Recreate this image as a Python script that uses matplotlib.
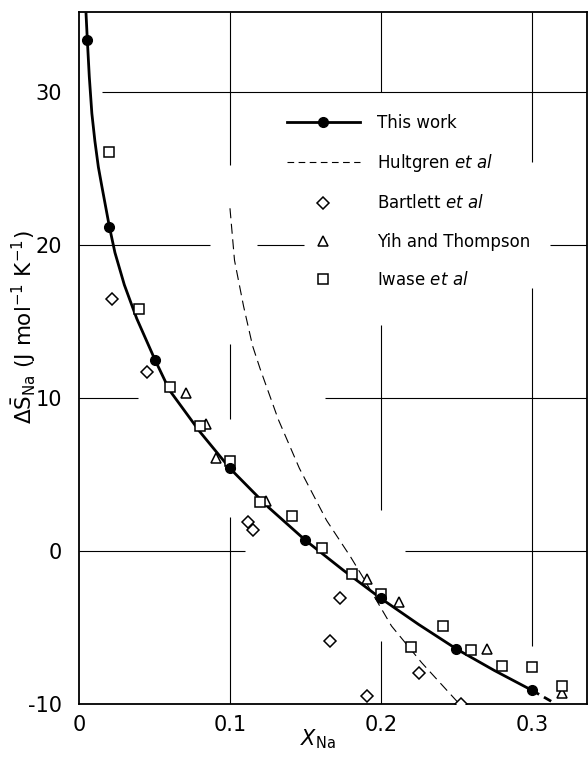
import matplotlib
matplotlib.use('Agg')
import matplotlib.pyplot as plt
from matplotlib.lines import Line2D

plt.rcParams['font.family'] = ['DejaVu Sans']
plt.rcParams['mathtext.fontset'] = 'dejavusans'
plt.rcParams['axes.unicode_minus'] = False

# This work: measured points and the drawn curve through them
tw_x = [0.005, 0.020, 0.050, 0.100, 0.150, 0.200, 0.250, 0.300]
tw_y = [33.4, 21.2, 12.5, 5.4, 0.7, -3.1, -6.4, -9.1]
tw_curve_x = [0.0046, 0.0055, 0.0068, 0.0085, 0.0105, 0.0128, 0.0150, 0.0201,
              0.0238, 0.030, 0.0382, 0.0503, 0.060, 0.080, 0.100, 0.125,
              0.150, 0.175, 0.200, 0.225, 0.250, 0.275, 0.300]
tw_curve_y = [35.2, 33.4, 31.0, 28.6, 26.8, 25.1, 23.9, 21.2,
              19.5, 17.4, 15.2, 12.5, 10.5, 7.8, 5.4, 2.9,
              0.7, -1.25, -3.1, -4.8, -6.4, -7.8, -9.1]
tw_extra_x = [0.300, 0.316]
tw_extra_y = [-9.1, -10.0]

# Hultgren et al (dashed curve)
hult_x = [0.100, 0.103, 0.109, 0.115, 0.120, 0.132, 0.146, 0.164, 0.180,
          0.188, 0.207, 0.227, 0.252]
hult_y = [22.4, 19.0, 16.0, 13.4, 11.9, 8.6, 5.4, 2.0, -0.4,
          -1.7, -4.9, -7.3, -10.0]

# Bartlett et al
bart_x = [0.022, 0.045, 0.112, 0.115, 0.166, 0.173, 0.191, 0.225, 0.253]
bart_y = [16.5, 11.7, 1.9, 1.4, -5.9, -3.1, -9.5, -8.0, -10.0]

# Yih and Thompson
yih_x = [0.071, 0.084, 0.091, 0.124, 0.191, 0.212, 0.270, 0.320]
yih_y = [10.3, 8.3, 6.1, 3.3, -1.85, -3.3, -6.4, -9.3]

# Iwase et al
iwase_x = [0.020, 0.040, 0.060, 0.080, 0.100, 0.120, 0.141, 0.161, 0.181,
           0.200, 0.220, 0.241, 0.260, 0.280, 0.300, 0.320]
iwase_y = [26.1, 15.8, 10.7, 8.2, 5.9, 3.2, 2.3, 0.2, -1.5,
           -2.8, -6.3, -4.9, -6.5, -7.5, -7.6, -8.8]

x_ticks = [0, 0.1, 0.2, 0.3]
x_ticklabels = ['0', '0.1', '0.2', '0.3']
y_ticks = [-10, 0, 10, 20, 30]

fig = plt.figure(figsize=(5.88, 7.58), dpi=100)
ax = fig.add_axes([0.1344, 0.0712, 0.8636, 0.913])
xmax, ymax = 0.3364, 35.23
ax.set_xlim(0, xmax)
ax.set_ylim(-10, ymax)

# broken grid lines, interrupted around data and legend like the original
gkw = dict(color='black', linewidth=0.8, zorder=1)
ax.hlines(30, 0.015, xmax, **gkw)
ax.hlines(20, 0.0, 0.087, **gkw)
ax.hlines(20, 0.118, 0.149, **gkw)
ax.hlines(20, 0.312, xmax, **gkw)
ax.hlines(10, 0.0, 0.039, **gkw)
ax.hlines(10, 0.163, xmax, **gkw)
ax.hlines(0, 0.0, 0.110, **gkw)
ax.hlines(0, 0.216, xmax, **gkw)
ax.vlines(0.1, 25.2, ymax, **gkw)
ax.vlines(0.1, 8.6, 13.5, **gkw)
ax.vlines(0.1, -10, 2.2, **gkw)
ax.vlines(0.2, 30, ymax, **gkw)
ax.vlines(0.2, 2.7, 14.8, **gkw)
ax.vlines(0.2, -10, -5.9, **gkw)
ax.vlines(0.3, 25.4, ymax, **gkw)
ax.vlines(0.3, -6.2, 17.2, **gkw)

ax.plot(tw_curve_x, tw_curve_y, color='black', linewidth=2.0, zorder=3,
        solid_capstyle='butt', solid_joinstyle='round')
ax.plot(tw_extra_x, tw_extra_y, color='black', linewidth=2.0, zorder=3,
        linestyle=(0, (3, 2)))
ax.plot(tw_x, tw_y, 'o', color='black', markersize=7, zorder=5)
ax.plot(hult_x, hult_y, color='black', linewidth=0.8,
        linestyle=(0, (9, 5)), zorder=2)

mkw = dict(linestyle='none', markerfacecolor='white', markeredgecolor='black',
           markeredgewidth=1.1)
ax.plot(bart_x, bart_y, 'D', markersize=6.5, zorder=4, **mkw)
ax.plot(yih_x, yih_y, '^', markersize=6.5, zorder=4, **mkw)
ax.plot(iwase_x, iwase_y, 's', markersize=7, zorder=4, **mkw)

handles = [
    Line2D([], [], color='black', linewidth=2.0, marker='o', markersize=7),
    Line2D([], [], color='black', linewidth=0.8, linestyle=(0, (6, 4))),
    Line2D([], [], marker='D', markersize=6.5, **mkw),
    Line2D([], [], marker='^', markersize=6.5, **mkw),
    Line2D([], [], marker='s', markersize=7, **mkw),
]
labels = ['This work', 'Hultgren $\\it{et\\ al}$', 'Bartlett $\\it{et\\ al}$',
          'Yih and Thompson', 'Iwase $\\it{et\\ al}$']
ax.legend(handles, labels, loc='upper left', bbox_to_anchor=(0.409, 0.853),
          frameon=False, fontsize=12, numpoints=1, handlelength=4.4,
          handletextpad=1.0, labelspacing=1.22, borderpad=0, borderaxespad=0)

ax.set_xticks(x_ticks)
ax.set_xticklabels(x_ticklabels)
ax.set_yticks(y_ticks)
ax.tick_params(length=0, labelsize=15)
ax.tick_params(axis='y', pad=12)
ax.tick_params(axis='x', pad=8)
for s in ax.spines.values():
    s.set_linewidth(1.3)

ax.set_xlabel('$X_{\\rm Na}$', fontsize=15)
ax.xaxis.set_label_coords(0.47, -0.034)
ax.set_ylabel('$\\Delta\\bar{\\rm S}_{\\rm Na}$ (J mol$^{-1}$ K$^{-1}$)',
              fontsize=15.5)
ax.yaxis.set_label_coords(-0.08, 0.545)

fig.savefig('out.png', dpi=100, facecolor='white')
